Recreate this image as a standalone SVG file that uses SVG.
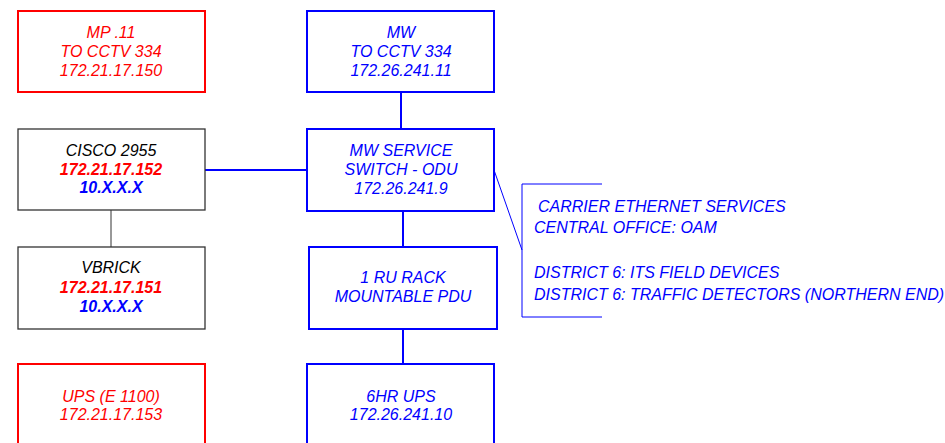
<svg xmlns="http://www.w3.org/2000/svg" width="945" height="443" viewBox="0 0 945 443">
<style>
text{font-family:"Liberation Sans",Arial,sans-serif;font-size:16px;font-style:italic;text-anchor:middle}
.r{fill:#ff0000}.b{fill:#0000ff}.k{fill:#000}.bold{font-weight:bold}
.rb{fill:#fff;stroke:#ff0000;stroke-width:2}
.bb{fill:#fff;stroke:#0000ff;stroke-width:2}
.kb{fill:#fff;stroke:#333;stroke-width:1.3}
.lt{text-anchor:start}
</style>
<g id="connectors" fill="none">
<line x1="401" y1="92" x2="401" y2="129" stroke="#0000ff" stroke-width="2"/>
<line x1="205" y1="170" x2="307" y2="170" stroke="#0000ff" stroke-width="2"/>
<line x1="111" y1="210" x2="111" y2="247" stroke="#333" stroke-width="1"/>
<line x1="403" y1="211" x2="403" y2="247" stroke="#0000ff" stroke-width="2"/>
<line x1="403" y1="329" x2="403" y2="364" stroke="#0000ff" stroke-width="2"/>
<line x1="494" y1="170" x2="522" y2="250" stroke="#0000ff" stroke-width="1"/>
<polyline points="602,184 522,184 522,317 602,317" stroke="#0000ff" stroke-width="1"/>
</g>
<g id="mp11">
<rect class="rb" x="18" y="11" width="187" height="81"/>
<text class="r" x="111" y="38">MP .11</text>
<text class="r" x="111" y="57">TO CCTV 334</text>
<text class="r" x="111" y="76">172.21.17.150</text>
</g>
<g id="mw">
<rect class="bb" x="307" y="11" width="187" height="81"/>
<text class="b" x="401" y="38">MW</text>
<text class="b" x="401" y="57">TO CCTV 334</text>
<text class="b" x="401" y="76">172.26.241.11</text>
</g>
<g id="cisco">
<rect class="kb" x="18" y="129" width="187" height="81"/>
<text class="k" x="111" y="156">CISCO 2955</text>
<text class="r bold" x="111" y="175">172.21.17.152</text>
<text class="b bold" x="111" y="193">10.X.X.X</text>
</g>
<g id="mwswitch">
<rect class="bb" x="307" y="129" width="187" height="82"/>
<text class="b" x="401" y="156">MW SERVICE</text>
<text class="b" x="401" y="175">SWITCH - ODU</text>
<text class="b" x="401" y="194">172.26.241.9</text>
</g>
<g id="vbrick">
<rect class="kb" x="18" y="247" width="187" height="82"/>
<text class="k" x="111" y="273">VBRICK</text>
<text class="r bold" x="111" y="293">172.21.17.151</text>
<text class="b bold" x="111" y="312">10.X.X.X</text>
</g>
<g id="pdu">
<rect class="bb" x="309" y="247" width="188" height="82"/>
<text class="b" x="403" y="283">1 RU RACK</text>
<text class="b" x="403" y="302">MOUNTABLE PDU</text>
</g>
<g id="ups1100">
<rect class="rb" x="18" y="364" width="187" height="90"/>
<text class="r" x="111" y="402">UPS (E 1100)</text>
<text class="r" x="111" y="420">172.21.17.153</text>
</g>
<g id="ups6hr">
<rect class="bb" x="307" y="364" width="187" height="90"/>
<text class="b" x="401" y="402">6HR UPS</text>
<text class="b" x="401" y="420">172.26.241.10</text>
</g>
<g id="services">
<text class="b lt" x="538" y="212">CARRIER ETHERNET SERVICES</text>
<text class="b lt" x="534" y="233">CENTRAL OFFICE: OAM</text>
<text class="b lt" x="534" y="278">DISTRICT 6: ITS FIELD DEVICES</text>
<text class="b lt" x="534" y="300">DISTRICT 6: TRAFFIC DETECTORS (NORTHERN END)</text>
</g>
</svg>
